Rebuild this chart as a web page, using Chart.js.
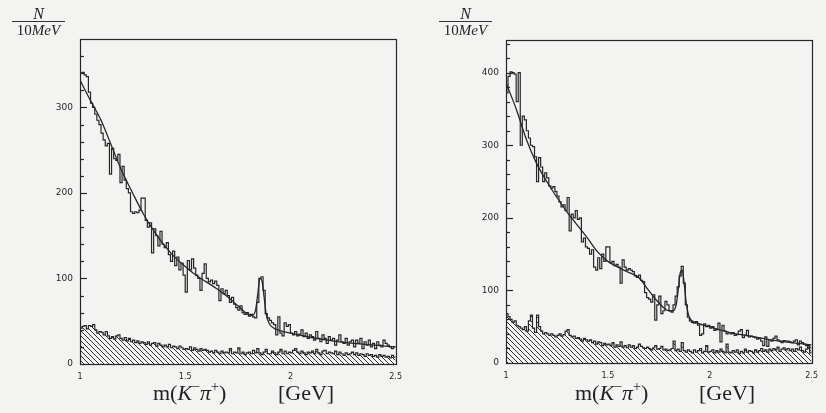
<!DOCTYPE html>
<html>
<head>
<meta charset="utf-8">
<script src="https://cdn.jsdelivr.net/npm/chart.js@4.4.0/dist/chart.umd.min.js"></script>
<style>
  body { margin: 0; background: #f3f3f1; }
  #wrap { position: relative; width: 826px; height: 413px; overflow: hidden; }
  canvas { position: absolute; top: 0; }
  .frac { position: absolute; font: 16px "Liberation Serif", serif; color: #222; text-align: center; line-height: 15px; }
  .frac .den { border-top: 1px solid #333; padding-top: 1px; font-size: 15px; }
  .xt { position: absolute; top: 382px; font: 22px "Liberation Serif", serif; color: #222; line-height: 1; white-space: nowrap; }
  .xt sup { font-size: 14px; vertical-align: 9px; line-height: 0; }
</style>
</head>
<body>
<div id="wrap">
  <canvas id="leftChart" width="410" height="413" style="left:0"></canvas>
  <canvas id="rightChart" width="406" height="413" style="left:420px"></canvas>

  <div class="frac" style="left:12px;top:6px;width:53px"><div><i>N</i></div><div class="den">10<i>MeV</i></div></div>
  <div class="frac" style="left:439px;top:6px;width:53px"><div><i>N</i></div><div class="den">10<i>MeV</i></div></div>

  <div class="xt" style="left:153px">m(<i>K</i><sup>−</sup><i>π</i><sup>+</sup>)</div>
  <div class="xt" style="left:278px">[GeV]</div>
  <div class="xt" style="left:575px">m(<i>K</i><sup>−</sup><i>π</i><sup>+</sup>)</div>
  <div class="xt" style="left:699px">[GeV]</div>
</div>

<script>
// 10 MeV bins from 1.0 to 2.5 GeV
const binStart = 1.0;
const binWidth = 0.01;
const xTicks = [1, 1.5, 2, 2.5];

// left plot: all combinations
const leftSignal = [
  340, 341, 338, 336, 318, 305, 300, 292, 285, 280,
  270, 262, 255, 258, 222, 252, 240, 238, 245, 212,
  231, 215, 205, 200, 178, 176, 178, 177, 180, 194,
  194, 168, 160, 165, 130, 158, 150, 138, 155, 140,
  136, 142, 128, 120, 132, 115, 125, 110, 118, 104,
  84, 121, 110, 123, 112, 104, 100, 86, 106, 117,
  100, 96, 98, 94, 97, 92, 74, 88, 82, 86,
  80, 72, 78, 70, 66, 63, 68, 60, 58, 60,
  56, 58, 55, 54, 72, 100, 102, 86, 59, 54,
  51, 48, 46, 34, 55, 36, 33, 48, 44, 46,
  36, 34, 38, 33, 35, 40, 32, 36, 30, 34,
  32, 28, 38, 30, 26, 34, 30, 24, 32, 28,
  30, 22, 28, 34, 26, 24, 30, 22, 26, 28,
  20, 28, 24, 30, 18, 26, 22, 28, 20, 24,
  18, 26, 22, 20, 28, 24, 22, 20, 18, 20
];
// left plot: wrong-sign background (hatched)
const leftBackground = [
  42, 44, 45, 41, 45, 44, 46, 40, 36, 38,
  37, 34, 38, 33, 30, 32, 29, 33, 34, 30,
  28, 31, 27, 30, 26, 28, 25, 27, 24, 26,
  25, 23, 26, 22, 24, 25, 21, 24, 22, 20,
  22, 20, 23, 19, 21, 20, 18, 21, 19, 17,
  18, 17, 20, 16, 19, 17, 15, 18, 16, 17,
  16, 14, 15, 13, 16, 14, 12, 15, 13, 14,
  13, 18, 12, 14, 13, 19, 12, 14, 11, 13,
  14, 12, 16, 13, 18, 13, 11, 14, 17, 12,
  12, 15, 13, 11, 14, 17, 12, 15, 12, 14,
  13, 16, 18, 14, 12, 15, 13, 11, 14, 13,
  15, 12, 17, 13, 11, 15, 16, 12, 14, 13,
  12, 15, 11, 14, 12, 10, 13, 11, 12, 14,
  11, 13, 10, 12, 11, 9, 12, 10, 11, 9,
  10, 8, 11, 9, 10, 8, 9, 7, 10, 8
];
// left plot: fitted curve
const leftFitMass = [1.0, 1.05, 1.1, 1.15, 1.2, 1.25, 1.3, 1.35, 1.4, 1.45, 1.5, 1.55, 1.6, 1.65, 1.7, 1.75, 1.8, 1.82, 1.835, 1.845, 1.855, 1.865, 1.875, 1.885, 1.9, 1.92, 1.95, 2.0, 2.1, 2.2, 2.3, 2.4, 2.5];
const leftFit     = [332, 308, 285, 255, 225, 200, 176, 156, 139, 125, 114, 104, 96, 88, 79, 68, 58, 57, 64, 82, 100, 97, 78, 58, 47, 42, 39, 36, 31, 27, 24, 22, 20];

// right plot
const rightSignal = [
  372, 395, 401, 400, 398, 360, 400, 300, 340, 335,
  320, 310, 300, 298, 284, 250, 283, 270, 250, 262,
  255, 244, 241, 243, 236, 230, 222, 215, 218, 210,
  228, 182, 205, 200, 210, 198, 200, 167, 172, 160,
  158, 150, 156, 132, 128, 145, 130, 150, 140, 160,
  160, 138, 140, 134, 136, 132, 110, 142, 132, 128,
  130, 128, 126, 120, 118, 121, 114, 112, 97, 90,
  88, 84, 94, 59, 80, 92, 68, 72, 85, 80,
  72, 70, 80, 92, 105, 120, 133, 110, 80, 63,
  58, 56, 55, 57, 52, 38, 40, 54, 50, 52,
  48, 50, 45, 46, 55, 29, 52, 44, 40, 42,
  40, 42, 38, 39, 44, 46, 35, 38, 45, 36,
  37, 36, 35, 33, 34, 30, 24, 36, 23, 32,
  30, 34, 37, 32, 30, 28, 31, 30, 30, 29,
  28, 30, 32, 25, 30, 28, 26, 24, 22, 14
];
const rightBackground = [
  68, 64, 60, 56, 58, 52, 50, 48, 46, 50,
  44, 58, 66, 48, 42, 66, 50, 44, 40, 42,
  40, 38, 40, 38, 36, 38, 40, 37, 39, 44,
  46, 38, 36, 37, 34, 35, 33, 30, 34, 32,
  30, 32, 28, 30, 26, 29, 28, 24, 27, 25,
  26, 24, 28, 22, 25, 23, 29, 22, 24, 21,
  25, 22, 24, 20, 22, 26, 23, 21, 20, 22,
  20, 18, 21, 24, 19, 20, 23, 18, 19, 17,
  18, 20, 30, 17, 19, 16, 28, 17, 15, 18,
  16, 14, 18, 15, 17, 20, 14, 16, 24, 15,
  16, 18, 14, 17, 15, 19, 16, 14, 26, 15,
  14, 17, 15, 18, 13, 16, 14, 19, 15, 17,
  16, 14, 18, 15, 17, 20, 16, 18, 15, 19,
  17, 20, 18, 22, 16, 19, 21, 18, 20, 17,
  19, 16, 20, 18, 22, 17, 15, 19, 24, 21
];
const rightFitMass = [1.0, 1.05, 1.1, 1.15, 1.2, 1.25, 1.3, 1.35, 1.4, 1.45, 1.5, 1.55, 1.6, 1.65, 1.7, 1.75, 1.8, 1.82, 1.835, 1.845, 1.855, 1.865, 1.875, 1.885, 1.9, 1.93, 2.0, 2.1, 2.2, 2.3, 2.4, 2.5];
const rightFit     = [386, 350, 308, 275, 250, 228, 208, 190, 172, 153, 140, 132, 125, 118, 100, 83, 72, 72, 80, 100, 124, 128, 108, 82, 63, 56, 50, 42, 37, 32, 28, 25];

const ink = '#262626';

// histogram outline: each bin value held until the next bin edge
function steps(values) {
  const pts = values.map((v, i) => ({ x: binStart + i * binWidth, y: v }));
  pts.push({ x: binStart + values.length * binWidth, y: values[values.length - 1] });
  return pts;
}

function hatch() {
  const c = document.createElement('canvas');
  c.width = c.height = 5;
  const g = c.getContext('2d');
  g.strokeStyle = '#303030';
  g.lineWidth = 1;
  g.beginPath();
  g.moveTo(-1, -1); g.lineTo(6, 6);
  g.moveTo(-1, 4); g.lineTo(1, 6);
  g.moveTo(4, -1); g.lineTo(6, 1);
  g.stroke();
  return g.createPattern(c, 'repeat');
}

// box around the plot plus inward ticks every 20 counts
const frame = {
  id: 'frame',
  afterDatasetsDraw(chart) {
    const { ctx, chartArea: a, scales: { y } } = chart;
    ctx.save();
    ctx.strokeStyle = ink;
    ctx.lineWidth = 1.2;
    ctx.strokeRect(Math.round(a.left) + 0.5, Math.round(a.top) + 0.5, Math.round(a.width), Math.round(a.height));
    for (let v = 20; v < y.max; v += 20) {
      const py = Math.round(y.getPixelForValue(v)) + 0.5;
      const len = v % 100 === 0 ? 7 : 4;
      ctx.beginPath();
      ctx.moveTo(a.left, py);
      ctx.lineTo(a.left + len, py);
      ctx.stroke();
    }
    ctx.restore();
  }
};

function makeChart(id, signal, background, fitMass, fit, yMax, pad) {
  const ctx = document.getElementById(id).getContext('2d');
  return new Chart(ctx, {
    type: 'line',
    data: {
      datasets: [
        {
          data: fitMass.map((m, i) => ({ x: m, y: fit[i] })),
          borderColor: ink,
          borderWidth: 1.3,
          pointRadius: 0,
          cubicInterpolationMode: 'monotone',
          fill: false,
        },
        {
          data: steps(signal),
          borderColor: ink,
          borderWidth: 1.2,
          pointRadius: 0,
          stepped: 'before',
          fill: false,
        },
        {
          data: steps(background),
          borderColor: ink,
          borderWidth: 1.2,
          pointRadius: 0,
          stepped: 'before',
          fill: 'origin',
          backgroundColor: hatch(),
        },
      ],
    },
    options: {
      responsive: false,
      animation: false,
      layout: { padding: pad },
      plugins: { legend: { display: false }, tooltip: { enabled: false } },
      scales: {
        x: {
          type: 'linear',
          min: 1,
          max: 2.5,
          afterFit: (s) => { s.height = 30; },
          afterBuildTicks: (s) => { s.ticks = xTicks.map((v) => ({ value: v })); },
          grid: { display: false, drawTicks: false },
          border: { display: false },
          ticks: {
            padding: 8,
            color: ink,
            font: { family: 'DejaVu Sans', size: 8 },
            maxRotation: 0,
            callback: (v) => String(v),
          },
        },
        y: {
          min: 0,
          max: yMax,
          afterFit: (s) => { s.width = 40; },
          grid: { display: false, drawTicks: false },
          border: { display: false },
          ticks: {
            stepSize: 100,
            includeBounds: false,
            padding: 7,
            color: ink,
            font: { family: 'DejaVu Sans', size: 9 },
          },
        },
      },
    },
    plugins: [frame],
  });
}

makeChart('leftChart', leftSignal, leftBackground, leftFitMass, leftFit, 380,
  { left: 40, top: 39, right: 8, bottom: 19 });
makeChart('rightChart', rightSignal, rightBackground, rightFitMass, rightFit, 445,
  { left: 46, top: 40, right: 4, bottom: 20 });
</script>
</body>
</html>
